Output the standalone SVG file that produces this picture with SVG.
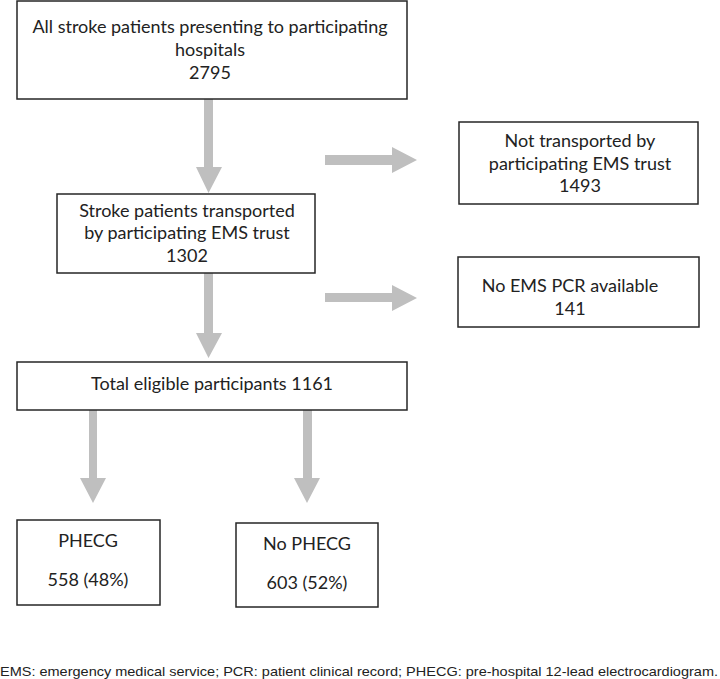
<svg xmlns="http://www.w3.org/2000/svg" width="720" height="679" viewBox="0 0 720 679">
<defs>
<style>
.box{fill:#ffffff;stroke:#262626;stroke-width:1.5}
.t{font-family:Lato,"Open Sans",sans-serif;font-size:18px;fill:#222222;text-anchor:middle;dominant-baseline:central}
.arr{fill:#bfbfbf}
.foot{font-family:"Liberation Sans",Arial,sans-serif;font-size:13px;fill:#222222}
</style>
</defs>
<rect width="720" height="679" fill="#ffffff"/>
<g id="connectors">
<path class="arr" d="M204,99 H213 V167 H222 L208.5,193 L196,167 H204 Z"/>
<path class="arr" d="M204,273 H213 V333 H222 L208.5,358 L196,333 H204 Z"/>
<path class="arr" d="M89,410 H97 V478 H106 L93,503 L80,478 H89 Z"/>
<path class="arr" d="M303,410 H312 V478 H320 L307,503 L294,478 H303 Z"/>
<path class="arr" d="M325,155 H392 V147 L417,160 L392,173 V165 H325 Z"/>
<path class="arr" d="M325,293 H392 V285 L417,298 L392,311 V302 H325 Z"/>
</g>
<g id="n1">
<rect class="box" x="17" y="1" width="390" height="98"/>
<text class="t" x="210" y="26">All stroke patients presenting to participating</text>
<text class="t" x="210" y="49">hospitals</text>
<text class="t" x="210" y="72">2795</text>
</g>
<g id="n2">
<rect class="box" x="57" y="194" width="258" height="79"/>
<text class="t" x="187" y="210">Stroke patients transported</text>
<text class="t" x="187" y="232">by participating EMS trust</text>
<text class="t" x="187" y="255">1302</text>
</g>
<g id="n3">
<rect class="box" x="459" y="122" width="239" height="82"/>
<text class="t" x="580" y="140">Not transported by</text>
<text class="t" x="580" y="163">participating EMS trust</text>
<text class="t" x="580" y="185">1493</text>
</g>
<g id="n4">
<rect class="box" x="458" y="257" width="241" height="70"/>
<text class="t" x="570" y="285">No EMS PCR available</text>
<text class="t" x="570" y="308">141</text>
</g>
<g id="n5">
<rect class="box" x="17" y="362" width="390" height="48"/>
<text class="t" x="212" y="383">Total eligible participants 1161</text>
</g>
<g id="n6">
<rect class="box" x="17" y="520" width="143" height="85"/>
<text class="t" x="88" y="540">PHECG</text>
<text class="t" x="88" y="579">558 (48%)</text>
</g>
<g id="n7">
<rect class="box" x="236" y="523" width="142" height="84"/>
<text class="t" x="307" y="543">No PHECG</text>
<text class="t" x="307" y="582">603 (52%)</text>
</g>
<text class="foot" x="0" y="676" textLength="718" lengthAdjust="spacingAndGlyphs">EMS: emergency medical service; PCR: patient clinical record; PHECG: pre-hospital 12-lead electrocardiogram.</text>
</svg>
